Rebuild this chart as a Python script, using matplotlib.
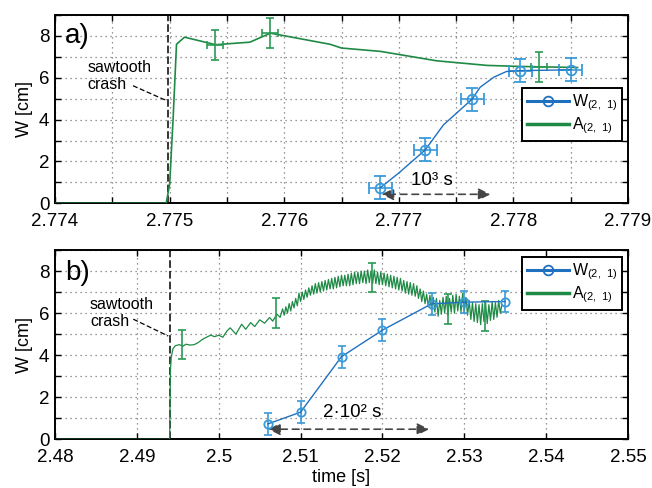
import numpy as np
import matplotlib
matplotlib.use('Agg')
import matplotlib.pyplot as plt
from matplotlib.ticker import MultipleLocator, FuncFormatter

plt.rcParams['font.family'] = ['Liberation Sans', 'DejaVu Sans']
plt.rcParams['mathtext.default'] = 'regular'

# ---------------- panel a) data ----------------
a_w_t = [2.77684, 2.77723, 2.77764, 2.77806, 2.77850]
a_w_v = [0.75, 2.55, 4.98, 6.34, 6.38]
a_w_yerr = 0.55
a_w_xerr = 0.0001
# blue curve drawn through the markers
a_wc_t = [2.77684, 2.77700, 2.77723, 2.77739, 2.77764, 2.77771, 2.77783, 2.77794, 2.77806, 2.77850]
a_wc_v = [0.75, 1.45, 2.55, 3.75, 4.98, 5.55, 6.03, 6.30, 6.34, 6.38]

a_amp_t = [2.7740, 2.77497, 2.77500, 2.77503, 2.77506, 2.77513, 2.77540, 2.77570, 2.77588,
           2.77640, 2.77650, 2.77684, 2.77733, 2.77777, 2.77806, 2.77856]
a_amp_v = [0.0, 0.0, 0.9, 4.0, 7.6, 7.94, 7.58, 7.70, 8.13,
           7.60, 7.42, 7.26, 6.81, 6.59, 6.54, 6.49]
a_eb_t = [2.77540, 2.77588, 2.77822]
a_eb_v = [7.58, 8.13, 6.52]
a_eb_yerr = 0.72
a_eb_xerr = 0.00007

# ---------------- panel b) data ----------------
b_w_t = [2.506, 2.510, 2.515, 2.520, 2.526, 2.530, 2.535]
b_w_v = [0.73, 1.29, 3.93, 5.19, 6.44, 6.52, 6.55]
b_w_yerr = 0.52

b_amp_t0 = [2.4800, 2.4940, 2.49405, 2.4941, 2.4942, 2.4944, 2.4947, 2.4952, 2.4956, 2.4960,
            2.4965, 2.4970, 2.4975, 2.4980, 2.4985, 2.4990, 2.4995, 2.5000, 2.5005, 2.5010,
            2.5014, 2.5021, 2.5028, 2.5033, 2.5039, 2.5044, 2.5050, 2.5056, 2.5062, 2.5066,
            2.5071, 2.5075]
b_amp_v0 = [0.0, 0.0, 1.5, 3.3, 3.9, 4.3, 4.45, 4.5, 4.42, 4.52,
            4.48, 4.5, 4.6, 4.75, 4.85, 4.95, 4.88, 4.95, 4.85, 5.15,
            5.3, 5.0, 5.47, 5.23, 5.55, 5.36, 5.68, 5.52, 5.79, 5.62,
            5.95, 5.80]
# fast oscillating part, one value every 0.2 ms starting at 2.5078 s
b_osc_start = 2.5078
b_osc_step = 0.0002
b_osc_v = [
    6.20, 5.90, 6.30, 6.00, 6.45, 6.10, 6.55, 6.25, 6.70, 6.35,
    6.95, 6.55, 7.00, 6.65, 7.10, 6.75, 7.20, 6.85, 7.30, 6.90,
    7.40, 6.95, 7.45, 7.00, 7.50, 7.05, 7.55, 7.10, 7.60, 7.15,
    7.65, 7.15, 7.70, 7.20, 7.75, 7.25, 7.80, 7.30, 7.80, 7.30,
    7.85, 7.30, 7.90, 7.35, 7.95, 7.40, 7.95, 7.40, 8.00, 7.45,
    8.00, 7.40, 8.05, 7.45, 8.00, 7.40, 8.05, 7.40, 7.95, 7.35,
    7.95, 7.35, 7.90, 7.30, 7.85, 7.25, 7.80, 7.20, 7.75, 7.15,
    7.70, 7.10, 7.65, 7.05, 7.55, 6.95, 7.50, 6.90, 7.45, 6.85,
    7.40, 6.80, 7.30, 6.70, 7.15, 6.55, 7.05, 6.45, 6.90, 6.30,
    6.85, 6.15, 6.75, 6.05, 6.70, 5.85, 6.60, 5.95, 6.75, 6.00,
    6.80, 5.90, 6.70, 6.05, 6.85, 6.00, 6.90, 6.10, 6.80, 6.05,
    6.95, 6.10, 6.75, 5.90, 6.60, 5.70, 6.50, 5.60, 6.45, 5.55,
    6.40, 5.45, 6.45, 5.60, 6.50, 5.50, 6.40, 5.65, 6.55, 5.70,
    6.50, 5.80, 6.60, 6.00, 6.40]
b_eb_t = [2.4955, 2.5070, 2.5187, 2.5280, 2.5325]
b_eb_v = [4.50, 6.00, 7.70, 6.20, 5.87]
b_eb_yerr = 0.70

crash_a = 2.77499
crash_b = 2.4940

blue = '#2070c0'
blue_eb = '#3a9ad9'
green = '#1f8a45'
green_eb = '#2a9a55'
arrow_c = '#454545'

fig = plt.figure(figsize=(6.52, 4.88), dpi=100)
ax1 = fig.add_axes([0.0844, 0.5834, 0.8788, 0.3859])
ax2 = fig.add_axes([0.0844, 0.0998, 0.8788, 0.3879])


def style_axes(ax):
    ax.set_ylim(0, 9)
    ax.yaxis.set_major_locator(MultipleLocator(1))
    ax.yaxis.set_major_formatter(FuncFormatter(lambda v, p: '%d' % v if int(round(v)) % 2 == 0 else ''))
    ax.tick_params(direction='in', length=4, width=1, top=True, right=True, labelsize=13.5)
    ax.tick_params(axis='x', pad=7)
    ax.tick_params(axis='y', pad=4)
    ax.grid(True, which='major', linestyle=(0, (1, 3)), color='#777777', lw=0.9)
    for s in ax.spines.values():
        s.set_linewidth(1.4)
    ax.set_ylabel('W [cm]', fontsize=13, labelpad=4)


# ---- panel a ----
ax1.axvline(crash_a, color='k', lw=1.1, linestyle=(0, (5, 2)), zorder=2)
ax1.plot(a_amp_t, a_amp_v, color=green, lw=1.2, zorder=3)
ax1.errorbar(a_eb_t, a_eb_v, yerr=a_eb_yerr, xerr=a_eb_xerr, fmt='none', ecolor=green_eb,
             elinewidth=1.2, capsize=3, capthick=1.2, zorder=3)
ax1.errorbar(a_w_t, a_w_v, yerr=a_w_yerr, xerr=a_w_xerr, fmt='o', mfc='none', mec=blue_eb,
             ms=7, mew=1.3, ecolor=blue_eb, elinewidth=1.2, capsize=4, capthick=1.2, zorder=4)
ax1.plot(a_wc_t, a_wc_v, color=blue, lw=1.0, zorder=4)
ax1.plot([], [], color=blue, lw=2.2, marker='o', mfc='none', mec=blue, ms=7, mew=1.3,
         label='W$_{(2,\\ 1)}$')
ax1.plot([], [], color=green, lw=2.5, label='A$_{(2,\\ 1)}$')
ax1.set_xlim(2.774, 2.779)
ax1.xaxis.set_major_locator(MultipleLocator(0.0005))
ax1.xaxis.set_major_formatter(FuncFormatter(
    lambda v, p: ('%.3f' % v) if abs(round(v * 1000) - v * 1000) < 1e-6 else ''))
style_axes(ax1)
ax1.text(0.017, 0.886, 'a)', transform=ax1.transAxes, fontsize=20, ha='left', va='center')
ax1.text(2.77428, 6.07, 'sawtooth\ncrash', fontsize=11.5, ha='left', va='center', linespacing=1.15)
ax1.plot([2.77468, 2.77498], [5.62, 4.89], color='k', lw=0.9, linestyle=(0, (4, 2)))
ax1.annotate('', xy=(2.77685, 0.43), xytext=(2.77780, 0.43),
             arrowprops=dict(arrowstyle='<|-|>', color=arrow_c, lw=1.2, linestyle=(0, (4, 3)),
                             mutation_scale=18, shrinkA=0, shrinkB=0))
ax1.text(2.77729, 1.11, '10³ s', fontsize=13.5, ha='center', va='center')
leg1 = ax1.legend(loc='upper right', bbox_to_anchor=(0.9895, 0.612), fontsize=11.5,
                  frameon=True, fancybox=False, edgecolor='k', framealpha=1,
                  handlelength=2.6, handletextpad=0.2, labelspacing=0.15, borderpad=0.3,
                  borderaxespad=0)
leg1.get_frame().set_linewidth(1.4)

# ---- panel b ----
b_osc_t = b_osc_start + b_osc_step * np.arange(len(b_osc_v))
b_amp_t = np.concatenate([b_amp_t0, b_osc_t])
b_amp_v = np.concatenate([b_amp_v0, b_osc_v])

ax2.axvline(crash_b, color='k', lw=1.1, linestyle=(0, (5, 2)), zorder=2)
ax2.plot(b_amp_t, b_amp_v, color=green, lw=0.9, zorder=3)
ax2.errorbar(b_eb_t, b_eb_v, yerr=b_eb_yerr, fmt='none', ecolor=green_eb,
             elinewidth=1.2, capsize=3, capthick=1.2, zorder=3)
ax2.errorbar(b_w_t, b_w_v, yerr=b_w_yerr, fmt='none', ecolor=blue_eb,
             elinewidth=1.2, capsize=3, capthick=1.2, zorder=4)
ax2.plot(b_w_t, b_w_v, color=blue, lw=1.0, marker='o', mfc='none', mec=blue_eb, ms=6, mew=1.3,
         zorder=5)
ax2.plot([], [], color=blue, lw=2.2, marker='o', mfc='none', mec=blue, ms=7, mew=1.3,
         label='W$_{(2,\\ 1)}$')
ax2.plot([], [], color=green, lw=2.5, label='A$_{(2,\\ 1)}$')
ax2.set_xlim(2.48, 2.55)
ax2.xaxis.set_major_locator(MultipleLocator(0.01))
ax2.xaxis.set_major_formatter(FuncFormatter(lambda v, p: ('%.3f' % v).rstrip('0').rstrip('.')))
style_axes(ax2)
ax2.set_xlabel('time [s]', fontsize=13, labelpad=2)
ax2.text(0.017, 0.877, 'b)', transform=ax2.transAxes, fontsize=20, ha='left', va='center')
ax2.text(2.48427, 6.0, 'sawtooth\ncrash', fontsize=11.5, ha='left', va='center', linespacing=1.15)
ax2.plot([2.48956, 2.49383], [5.71, 4.91], color='k', lw=0.9, linestyle=(0, (4, 2)))
ax2.annotate('', xy=(2.50604, 0.48), xytext=(2.52571, 0.48),
             arrowprops=dict(arrowstyle='<|-|>', color=arrow_c, lw=1.2, linestyle=(0, (4, 3)),
                             mutation_scale=18, shrinkA=0, shrinkB=0))
ax2.text(2.51633, 1.27, '2·10² s', fontsize=13.5, ha='center', va='center')
leg2 = ax2.legend(loc='upper right', bbox_to_anchor=(0.9895, 0.963), fontsize=11.5,
                  frameon=True, fancybox=False, edgecolor='k', framealpha=1,
                  handlelength=2.6, handletextpad=0.2, labelspacing=0.15, borderpad=0.3,
                  borderaxespad=0)
leg2.get_frame().set_linewidth(1.4)

fig.savefig('out.png', dpi=100)
